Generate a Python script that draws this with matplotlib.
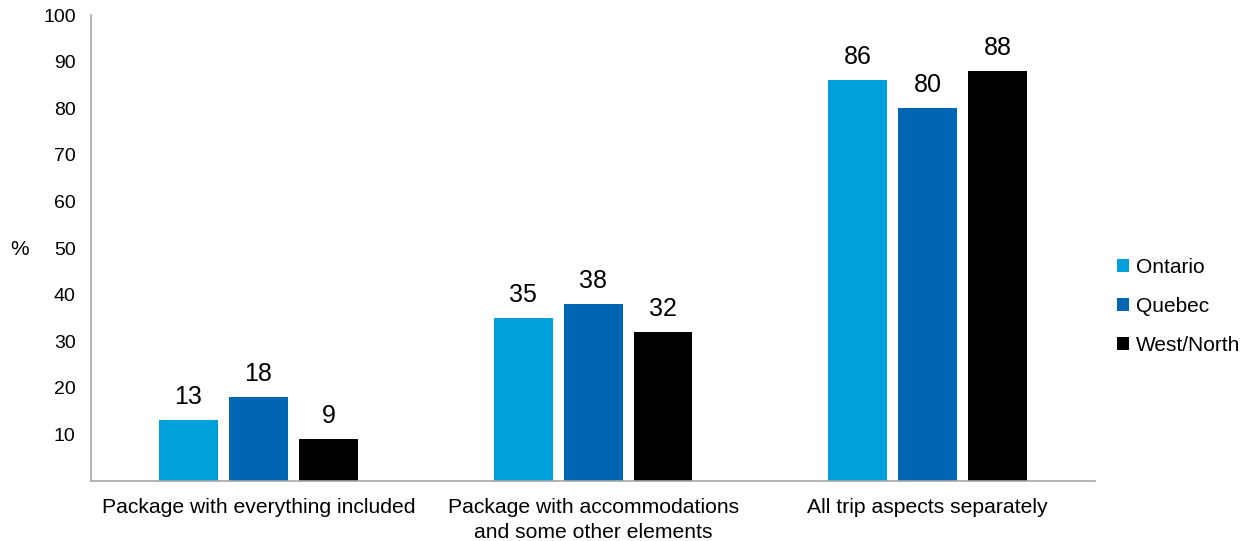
import numpy as np
import matplotlib.pyplot as plt

plt.rcParams['font.family'] = ['Liberation Sans', 'DejaVu Sans']

categories = ['Package with everything included',
              'Package with accommodations\nand some other elements',
              'All trip aspects separately']
regions = ['Ontario', 'Quebec', 'West/North']
ontario = [13, 35, 86]
quebec = [18, 38, 80]
west_north = [9, 32, 88]
colors = ['#00A0DC', '#0066B3', '#000000']

fig = plt.figure(figsize=(12.52, 5.41), dpi=100)
ax = fig.add_axes([0.0727, 0.111, 0.802, 0.861])

x = np.arange(len(categories))
width = 0.176
step = 0.209
for i, (vals, name) in enumerate(zip([ontario, quebec, west_north], regions)):
    bars = ax.bar(x + (i - 1) * step, vals, width, color=colors[i], label=name)
    ax.bar_label(bars, labels=[str(v) for v in vals], padding=8, fontsize=18)

ax.set_xlim(-0.5, 2.5)
ax.set_ylim(0, 100)
ax.set_yticks(range(10, 101, 10))
ax.set_xticks(x)
ax.set_xticklabels(categories, fontsize=15.2, linespacing=1.4)
ax.tick_params(axis='both', length=0)
ax.tick_params(axis='y', pad=11, labelsize=14)
ax.tick_params(axis='x', pad=12)
for side in ['top', 'right']:
    ax.spines[side].set_visible(False)
for side in ['left', 'bottom']:
    ax.spines[side].set_color('#A6A6A6')
    ax.spines[side].set_linewidth(1.2)

ax.set_ylabel('%', rotation=0, fontsize=15, va='center')
ax.yaxis.set_label_coords(-0.071, 0.496)

ax.legend(loc='center left', bbox_to_anchor=(1.003, 0.375), frameon=False,
          fontsize=15, handlelength=0.6, handleheight=0.6, handletextpad=0.3,
          labelspacing=0.95)

fig.savefig('out.png', dpi=100)
